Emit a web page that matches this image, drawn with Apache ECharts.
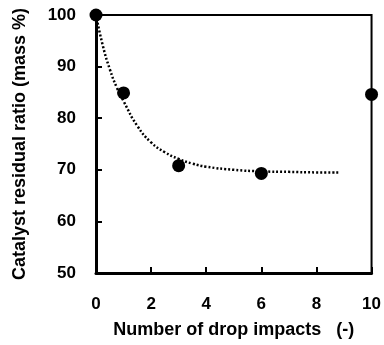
<!DOCTYPE html>
<html>
<head>
<meta charset="utf-8">
<script src="https://cdn.jsdelivr.net/npm/echarts@6/dist/echarts.min.js"></script>
<style>
  html, body { margin: 0; padding: 0; background: #fff; }
  #chart { width: 384px; height: 345px; }
</style>
</head>
<body>
<div id="chart"></div>
<script>
// measured points
let impacts = [0, 1, 3, 6, 10]
let residual = [100, 84.9, 70.8, 69.3, 84.6]

// dotted trend line
let fitX = [0, 0.25, 0.5, 0.75, 1, 1.5, 2, 2.5, 3, 3.5, 4, 5, 6, 7, 8, 8.8]
let fitY = [100, 94, 89.5, 86, 83.3, 78.5, 75.3, 73.4, 72.1, 71.2, 70.6, 70, 69.7, 69.6, 69.5, 69.5]

let xTicks = [0, 2, 4, 6, 8, 10]
let yTicks = [50, 60, 70, 80, 90, 100]

let font = 'Liberation Sans, Arial, sans-serif'

let chart = echarts.init(document.getElementById('chart'))

let option = {
  backgroundColor: '#fff',
  animation: false,
  grid: {
    left: 96,
    right: 12,
    top: 15,
    bottom: 72,
    show: true,
    borderColor: '#000',
    borderWidth: 2
  },
  xAxis: {
    type: 'value',
    min: xTicks[0],
    max: xTicks[xTicks.length - 1],
    interval: 2,
    name: 'Number of drop impacts   (-)',
    nameLocation: 'middle',
    nameGap: 48,
    nameTextStyle: { color: '#000', fontFamily: font, fontWeight: 'bold', fontSize: 18 },
    axisLine: { lineStyle: { color: '#000', width: 3 } },
    axisTick: { inside: true, length: 6, lineStyle: { color: '#000', width: 2 } },
    axisLabel: { color: '#000', fontFamily: font, fontWeight: 'bold', fontSize: 17, margin: 23 },
    splitLine: { show: false }
  },
  yAxis: {
    type: 'value',
    min: yTicks[0],
    max: yTicks[yTicks.length - 1],
    interval: 10,
    name: 'Catalyst residual ratio (mass %)',
    nameLocation: 'middle',
    nameGap: 67,
    nameTextStyle: { color: '#000', fontFamily: font, fontWeight: 'bold', fontSize: 18 },
    axisLine: { lineStyle: { color: '#000', width: 3 } },
    axisTick: { inside: true, length: 6, lineStyle: { color: '#000', width: 2 } },
    axisLabel: { color: '#000', fontFamily: font, fontWeight: 'bold', fontSize: 17, margin: 20 },
    splitLine: { show: false }
  },
  series: [{
    type: 'line',
    data: fitX.map((x, i) => [x, fitY[i]]),
    smooth: true,
    showSymbol: false,
    symbol: 'none',
    lineStyle: { color: '#000', width: 2.5, type: [2, 2] },
    z: 2
  }, {
    type: 'scatter',
    data: impacts.map((x, i) => [x, residual[i]]),
    symbol: 'circle',
    symbolSize: 13,
    itemStyle: { color: '#000', opacity: 1 },
    clip: false,
    z: 3
  }]
}

chart.setOption(option)
</script>
</body>
</html>
